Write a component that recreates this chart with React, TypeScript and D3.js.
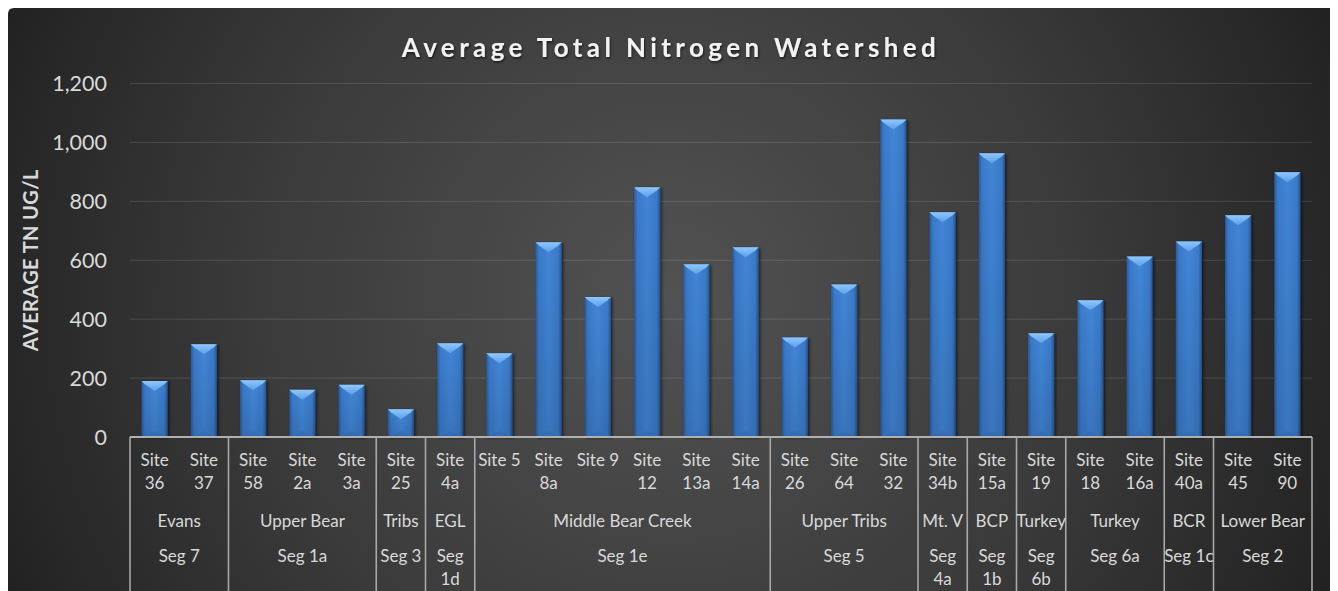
import React from "react";
import * as d3 from "d3";

const sites = ["Site 36","Site 37","Site 58","Site 2a","Site 3a","Site 25","Site 4a","Site 5","Site 8a","Site 9","Site 12","Site 13a","Site 14a","Site 26","Site 64","Site 32","Site 34b","Site 15a","Site 19","Site 18","Site 16a","Site 40a","Site 45","Site 90"];
const values = [190,315,193,160,177,94,318,284,661,475,848,586,644,338,518,1078,763,963,352,464,613,664,753,899];
const regions = ["Evans","Upper Bear","Tribs","EGL","Middle Bear Creek","Upper Tribs","Mt. V","BCP","Turkey","Turkey","BCR","Lower Bear"];
const regionSiteCounts = [2,3,1,1,6,3,1,1,1,2,1,2];
const segments = ["Seg 7","Seg 1a","Seg 3","Seg\n1d","Seg 1e","Seg 5","Seg\n4a","Seg\n1b","Seg\n6b","Seg 6a","Seg 1c","Seg 2"];
const yTicks = [0,200,400,600,800,1000,1200];
const title = "Average Total Nitrogen Watershed";
const yTitle = "AVERAGE TN UG/L";

const W = 1330, H = 583;
const left = 122, right = 1304, y0 = 429, yTop = 75.5;

export default function App() {
  const x = d3.scaleBand<string>().domain(sites).range([left, right]).paddingInner(0.47).paddingOuter(0.235);
  const y = d3.scaleLinear().domain([0, 1200]).range([y0, yTop]);
  const step = (right - left) / sites.length;
  const fmt = d3.format(",");
  const font = "Lato, 'Open Sans', sans-serif";
  const labelColor = "#d9d9d9";

  const bounds: number[] = [0];
  regionSiteCounts.forEach((c) => bounds.push(bounds[bounds.length - 1] + c));

  const splitSite = (s: string) => (s.length > 6 ? s.split(" ") : [s]);

  return (
    <svg width={W} height={H} style={{ display: "block" }}>
      <defs>
        <radialGradient id="bg" gradientUnits="userSpaceOnUse" cx={660} cy={290} r={760}>
          <stop offset="0" stopColor="#525252" />
          <stop offset="0.55" stopColor="#3a3a3a" />
          <stop offset="1" stopColor="#1f1f1f" />
        </radialGradient>
        <linearGradient id="barFill" x1="0" x2="1" y1="0" y2="0">
          <stop offset="0" stopColor="#2a5c9e" />
          <stop offset="0.13" stopColor="#3a7aca" />
          <stop offset="0.5" stopColor="#4286d6" />
          <stop offset="0.87" stopColor="#3a7aca" />
          <stop offset="1" stopColor="#26558f" />
        </linearGradient>
        <linearGradient id="barTop" x1="0" x2="0" y1="0" y2="1">
          <stop offset="0" stopColor="#8fc7fa" />
          <stop offset="1" stopColor="#5b9fe8" />
        </linearGradient>
        <linearGradient id="barShade" x1="0" x2="0" y1="0" y2="1">
          <stop offset="0" stopColor="#000" stopOpacity="0" />
          <stop offset="1" stopColor="#000" stopOpacity="0.12" />
        </linearGradient>
        <filter id="barShadow" x="-30%" y="-10%" width="160%" height="120%">
          <feDropShadow dx="1.5" dy="1" stdDeviation="1.5" floodColor="#000" floodOpacity="0.6" />
        </filter>
        <filter id="txtShadow" x="-10%" y="-30%" width="120%" height="160%">
          <feDropShadow dx="1" dy="1.5" stdDeviation="1.2" floodColor="#000" floodOpacity="0.6" />
        </filter>
      </defs>

      <path d={`M6,0 H${W} V${H} H0 V6 Q0,0 6,0 Z`} fill="url(#bg)" />

      {yTicks.filter((t) => t > 0).map((t) => (
        <line key={t} x1={left} x2={right} y1={y(t)} y2={y(t)} stroke="#ffffff" strokeOpacity={0.13} strokeWidth={1} />
      ))}

      {yTicks.map((t) => (
        <text key={t} x={99} y={y(t)} dy="0.36em" textAnchor="end" fill={labelColor} fontFamily={font} fontSize={21.5}>
          {fmt(t)}
        </text>
      ))}

      <text transform={`translate(30,${(y0 + yTop) / 2}) rotate(-90)`} textAnchor="middle" fill={labelColor} fontFamily={font} fontWeight="bold" fontSize={20} letterSpacing={0.4}>
        {yTitle}
      </text>

      <text x={663} y={49} textAnchor="middle" fill="#f2f2f2" fontFamily={font} fontWeight="bold" fontSize={26} letterSpacing={4.4} filter="url(#txtShadow)">
        {title}
      </text>

      {sites.map((s, i) => {
        const bx = x(s)!;
        const bw = x.bandwidth();
        const top = y(values[i]);
        const h = y0 - top;
        const bev = Math.min(10, h / 2);
        return (
          <g key={s}>
            <rect x={bx} y={top} width={bw} height={h} fill="url(#barFill)" filter="url(#barShadow)" />
            <rect x={bx} y={top} width={bw} height={h} fill="url(#barShade)" />
            <polygon points={`${bx},${top} ${bx + bw},${top} ${bx + bw - 3},${top + 3} ${bx + bw / 2},${top + bev} ${bx + 3},${top + 3}`} fill="url(#barTop)" />
            <polygon points={`${bx + 3},${y0} ${bx + bw / 2},${y0 - 6} ${bx + bw - 3},${y0}`} fill="#2f68b0" opacity={0.6} />
          </g>
        );
      })}

      <line x1={left} x2={right} y1={y0} y2={y0} stroke="#b0b0b0" strokeWidth={2} />

      {bounds.map((b, i) => (
        <line key={i} x1={left + b * step} x2={left + b * step} y1={y0} y2={H} stroke="#a8a8a8" strokeWidth={1.6} />
      ))}

      {sites.map((s) => {
        const cx = x(s)! + x.bandwidth() / 2;
        const lines = splitSite(s);
        return (
          <text key={s} x={cx} textAnchor="middle" fill={labelColor} fontFamily={font} fontSize={17}>
            {lines.map((ln, j) => (
              <tspan key={j} x={cx} y={452 + j * 23.3} dy="0.36em">{ln}</tspan>
            ))}
          </text>
        );
      })}

      {regions.map((r, i) => {
        const cx = left + ((bounds[i] + bounds[i + 1]) / 2) * step;
        return (
          <text key={i} x={cx} y={513} dy="0.36em" textAnchor="middle" fill={labelColor} fontFamily={font} fontSize={17}>
            {r}
          </text>
        );
      })}

      {segments.map((sg, i) => {
        const cx = left + ((bounds[i] + bounds[i + 1]) / 2) * step;
        const lines = sg.split("\n");
        return (
          <text key={i} x={cx} textAnchor="middle" fill={labelColor} fontFamily={font} fontSize={17}>
            {lines.map((ln, j) => (
              <tspan key={j} x={cx} y={548 + j * 23.3} dy="0.36em">{ln}</tspan>
            ))}
          </text>
        );
      })}
    </svg>
  );
}
